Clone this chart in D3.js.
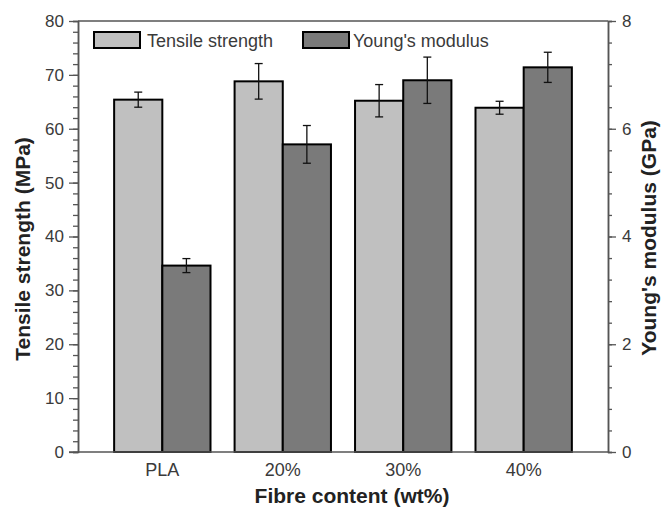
<!DOCTYPE html>
<html>
<head>
<meta charset="utf-8">
<script src="https://cdn.jsdelivr.net/npm/d3@7"></script>
<style>
  body { margin: 0; background: #fff; }
  svg { font-family: "Liberation Sans", Arial, sans-serif; }
</style>
</head>
<body>
<div id="chart"></div>
<script>
// data
var categories = ["PLA", "20%", "30%", "40%"];
var tensile = [65.4, 68.8, 65.2, 63.9];        // MPa
var tensileErr = [1.4, 3.3, 3.0, 1.2];
var modulus = [3.46, 5.71, 6.90, 7.14];        // GPa
var modulusErr = [0.13, 0.35, 0.43, 0.28];
var leftTicks = [0, 10, 20, 30, 40, 50, 60, 70, 80];
var rightTicks = [0, 2, 4, 6, 8];
var seriesNames = ["Tensile strength", "Young's modulus"];

var W = 664, H = 510;
var m = {left: 78, right: 56, top: 21, bottom: 58};
var cfg = {
  lightFill: "#c0c0c0",
  darkFill: "#7a7a7a",
  axisColor: "#555",
  textColor: "#3a3a3a"
};

var svg = d3.select("#chart").append("svg")
  .attr("width", W).attr("height", H);

var x = d3.scaleBand().domain(categories)
  .range([m.left, W - m.right])
  .paddingInner(0.2).paddingOuter(0.3);
var xs = d3.scaleBand().domain([0, 1]).range([0, x.bandwidth()]);
var yL = d3.scaleLinear().domain([0, 80]).range([H - m.bottom, m.top]);
var yR = d3.scaleLinear().domain([0, 8]).range([H - m.bottom, m.top]);

var rows = categories.map(function(c, i){
  return [
    {cat: c, k: 0, v: tensile[i], e: tensileErr[i], y: yL, fill: cfg.lightFill},
    {cat: c, k: 1, v: modulus[i], e: modulusErr[i], y: yR, fill: cfg.darkFill}
  ];
});
var bars = [].concat.apply([], rows);

// bars
svg.append("g").selectAll("rect")
  .data(bars).enter().append("rect")
  .attr("x", function(d){ return x(d.cat) + xs(d.k); })
  .attr("width", xs.bandwidth())
  .attr("y", function(d){ return d.y(d.v); })
  .attr("height", function(d){ return d.y(0) - d.y(d.v); })
  .style("fill", function(d){ return d.fill; })
  .style("stroke", "#000")
  .style("stroke-width", 2);

// error bars
var eb = svg.append("g").selectAll("g")
  .data(bars).enter().append("g")
  .style("stroke", "#111").style("stroke-width", 1.3);
function cx(d){ return x(d.cat) + xs(d.k) + xs.bandwidth()/2; }
eb.append("line")
  .attr("x1", cx).attr("x2", cx)
  .attr("y1", function(d){ return d.y(d.v + d.e); })
  .attr("y2", function(d){ return d.y(d.v - d.e); });
[1, -1].forEach(function(s){
  eb.append("line")
    .attr("x1", function(d){ return cx(d) - 4; })
    .attr("x2", function(d){ return cx(d) + 4; })
    .attr("y1", function(d){ return d.y(d.v + s*d.e); })
    .attr("y2", function(d){ return d.y(d.v + s*d.e); });
});

// frame
svg.append("line")
  .attr("x1", m.left).attr("x2", W - m.right)
  .attr("y1", m.top).attr("y2", m.top)
  .style("stroke", cfg.axisColor).style("stroke-width", 1.5);

function styleAxis(g, size){
  g.select(".domain").style("stroke", cfg.axisColor).style("stroke-width", 1.5);
  g.selectAll(".tick line").style("stroke", cfg.axisColor).style("stroke-width", 1.3);
  g.selectAll(".tick text").style("fill", cfg.textColor)
    .style("font-size", (size || 17) + "px").style("font-family", "Liberation Sans, Arial, sans-serif");
}

// left axis
svg.append("g").attr("transform", "translate(" + m.left + ",0)")
  .call(d3.axisLeft(yL).tickValues(d3.range(0, 81, 2)).tickSize(5).tickFormat(""))
  .call(styleAxis);
svg.append("g").attr("transform", "translate(" + m.left + ",0)")
  .call(d3.axisLeft(yL).tickValues(leftTicks).tickSize(9).tickPadding(5).tickSizeOuter(0))
  .call(styleAxis);

// right axis
var rx = W - m.right;
svg.append("g").attr("transform", "translate(" + rx + ",0)")
  .call(d3.axisRight(yR).tickValues(d3.range(0, 8.01, 0.4)).tickSize(4).tickFormat(""))
  .call(styleAxis);
svg.append("g").attr("transform", "translate(" + rx + ",0)")
  .call(d3.axisRight(yR).tickValues(rightTicks).tickSize(8).tickPadding(6).tickSizeOuter(0))
  .call(styleAxis);

// bottom axis
var xa = svg.append("g").attr("transform", "translate(0," + (H - m.bottom) + ")")
  .call(d3.axisBottom(x).tickSize(0).tickPadding(11).tickSizeOuter(0))
  .call(styleAxis, 18);
xa.select(".domain").attr("d", "M" + (m.left - 9) + ",0H" + (W - m.right));

// axis titles
svg.append("text")
  .attr("transform", "translate(30,249) rotate(-90)")
  .attr("text-anchor", "middle")
  .style("font-size", "21px").style("font-weight", "bold").style("fill", "#222")
  .text("Tensile strength (MPa)");
svg.append("text")
  .attr("transform", "translate(656,238) rotate(-90)")
  .attr("text-anchor", "middle")
  .style("font-size", "21px").style("font-weight", "bold").style("fill", "#222")
  .text("Young's modulus (GPa)");
svg.append("text")
  .attr("x", 352).attr("y", 503)
  .attr("text-anchor", "middle")
  .style("font-size", "21px").style("font-weight", "bold").style("fill", "#222")
  .text("Fibre content (wt%)");

// legend
var lg = svg.append("g").selectAll("g")
  .data(seriesNames).enter().append("g")
  .attr("transform", function(d, i){ return "translate(" + (94 + i*209) + ",32)"; });
lg.append("rect")
  .attr("width", 46).attr("height", 16)
  .style("fill", function(d, i){ return i ? cfg.darkFill : cfg.lightFill; })
  .style("stroke", "#000").style("stroke-width", 2);
lg.append("text")
  .attr("x", function(d, i){ return i ? 50 : 53; }).attr("y", 14.5)
  .style("font-size", "18px").style("fill", cfg.textColor)
  .text(function(d){ return d; });
</script>
</body>
</html>
